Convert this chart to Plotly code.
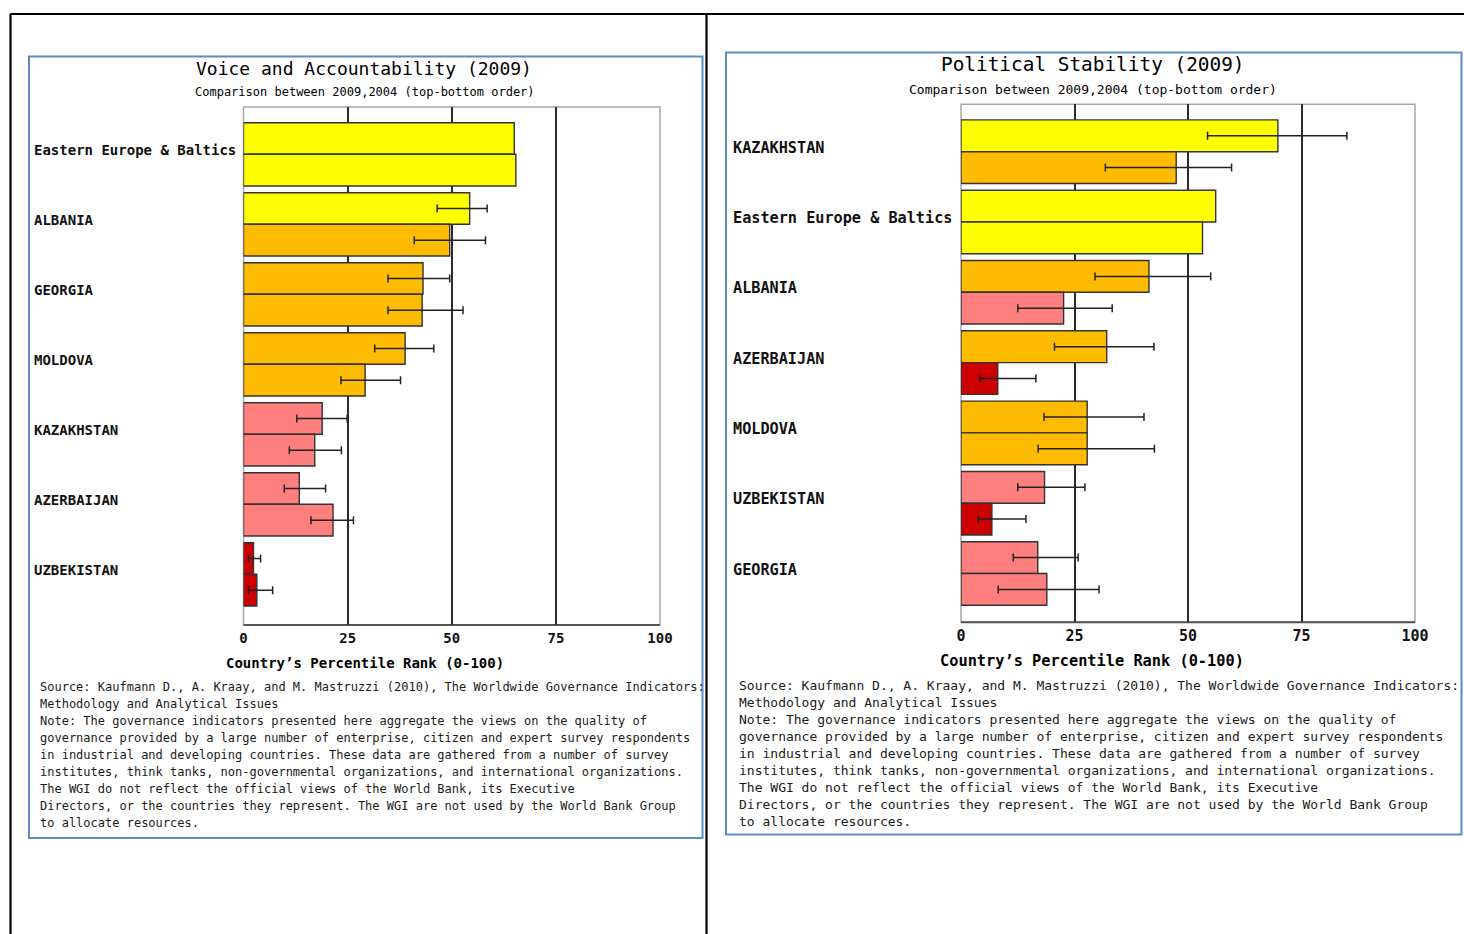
import plotly.graph_objects as go

# ---------------- data ----------------
va_categories = ["Eastern Europe & Baltics", "ALBANIA", "GEORGIA", "MOLDOVA",
                 "KAZAKHSTAN", "AZERBAIJAN", "UZBEKISTAN"]
va_2009 = [65.0, 54.3, 43.1, 38.8, 18.9, 13.4, 2.4]
va_2009_lo = [None, 46.5, 34.7, 31.5, 12.8, 9.8, 1.2]
va_2009_hi = [None, 58.5, 49.5, 45.7, 24.9, 19.7, 4.1]
va_2004 = [65.4, 49.5, 42.9, 29.2, 17.1, 21.5, 3.2]
va_2004_lo = [None, 41.0, 34.7, 23.4, 11.0, 16.2, 1.2]
va_2004_hi = [None, 58.1, 52.7, 37.7, 23.5, 26.4, 7.0]

ps_categories = ["KAZAKHSTAN", "Eastern Europe & Baltics", "ALBANIA", "AZERBAIJAN",
                 "MOLDOVA", "UZBEKISTAN", "GEORGIA"]
ps_2009 = [69.8, 56.1, 41.4, 32.1, 27.8, 18.4, 16.9]
ps_2009_lo = [54.3, None, 29.5, 20.6, 18.3, 12.5, 11.5]
ps_2009_hi = [85.0, None, 55.0, 42.5, 40.3, 27.3, 25.8]
ps_2004 = [47.4, 53.2, 22.6, 8.1, 27.8, 6.8, 18.9]
ps_2004_lo = [31.8, None, 12.5, 4.2, 17.0, 3.8, 8.2]
ps_2004_hi = [59.6, None, 33.3, 16.5, 42.6, 14.3, 30.4]

tick_values = [0, 25, 50, 75, 100]
grid_values = [25, 50, 75]
axis_title = "Country\u2019s Percentile Rank (0-100)"

footnote_lines = [
    "Source: Kaufmann D., A. Kraay, and M. Mastruzzi (2010), The Worldwide Governance Indicators:",
    "Methodology and Analytical Issues",
    "Note: The governance indicators presented here aggregate the views on the quality of",
    "governance provided by a large number of enterprise, citizen and expert survey respondents",
    "in industrial and developing countries. These data are gathered from a number of survey",
    "institutes, think tanks, non-governmental organizations, and international organizations.",
    "The WGI do not reflect the official views of the World Bank, its Executive",
    "Directors, or the countries they represent. The WGI are not used by the World Bank Group",
    "to allocate resources.",
]

# ---------------- styling ----------------
W, H = 1464, 934
MONO = "DejaVu Sans Mono"
BAR_LINE = "#333333"


def px_x(p):
    return p / W


def px_y(p):
    return 1 - p / H


def rank_color(v):
    if v < 10:
        return "#CC0000"
    if v < 25:
        return "#FF7F7F"
    if v < 50:
        return "#FFBB00"
    if v < 75:
        return "#FFFF00"
    return "#00CC00"


fig = go.Figure()


def add_panel(xa, ya, cats, v09, lo09, hi09, v04, lo04, hi04):
    # one trace per year for rows with a confidence interval, one without
    for year, vals, lo, hi in (("2009", v09, lo09, hi09), ("2004", v04, lo04, hi04)):
        with_ci = [i for i in range(len(cats)) if lo[i] is not None]
        no_ci = [i for i in range(len(cats)) if lo[i] is None]
        fig.add_trace(go.Bar(
            orientation="h", xaxis=xa, yaxis=ya, offsetgroup=year,
            y=[cats[i] for i in with_ci], x=[vals[i] for i in with_ci],
            marker=dict(color=[rank_color(vals[i]) for i in with_ci],
                        line=dict(color=BAR_LINE, width=1.4)),
            error_x=dict(type="data", symmetric=False,
                         array=[hi[i] - vals[i] for i in with_ci],
                         arrayminus=[vals[i] - lo[i] for i in with_ci],
                         color="#222222", thickness=1.5, width=4),
            showlegend=False, hoverinfo="skip",
        ))
        fig.add_trace(go.Bar(
            orientation="h", xaxis=xa, yaxis=ya, offsetgroup=year,
            y=[cats[i] for i in no_ci], x=[vals[i] for i in no_ci],
            marker=dict(color=[rank_color(vals[i]) for i in no_ci],
                        line=dict(color=BAR_LINE, width=1.4)),
            showlegend=False, hoverinfo="skip",
        ))


add_panel("x", "y", va_categories, va_2009, va_2009_lo, va_2009_hi,
          va_2004, va_2004_lo, va_2004_hi)
add_panel("x2", "y2", ps_categories, ps_2009, ps_2009_lo, ps_2009_hi,
          ps_2004, ps_2004_lo, ps_2004_hi)


def xaxis_style(tick_size):
    return dict(range=[0, 100], tickvals=tick_values, showgrid=False, automargin=False,
                minor=dict(tickvals=grid_values, showgrid=True, gridcolor="#2b2b2b",
                           gridwidth=1.5, ticks=""),
                zeroline=False, showline=False, ticks="", ticklabelstandoff=3,
                tickfont=dict(family=MONO, size=tick_size, color="#111", weight="bold"),
                fixedrange=True)


ycommon = dict(type="category", categoryorder="array", showticklabels=False,
               showgrid=False, zeroline=False, showline=False, ticks="",
               automargin=False, fixedrange=True)

fig.update_layout(
    template="none",
    width=W, height=H, margin=dict(l=0, r=0, t=0, b=0, autoexpand=False),
    paper_bgcolor="white", plot_bgcolor="white",
    barmode="group", bargap=0.096, bargroupgap=0,
    xaxis=dict(domain=[px_x(243.5), px_x(660)], anchor="y", **xaxis_style(14)),
    yaxis=dict(domain=[px_y(625), px_y(107)], anchor="x",
               categoryarray=va_categories, range=[6.724, -0.676], **ycommon),
    xaxis2=dict(domain=[px_x(961), px_x(1415)], anchor="y2", **xaxis_style(15)),
    yaxis2=dict(domain=[px_y(622.3), px_y(104.3)], anchor="x2",
                categoryarray=ps_categories, range=[6.694, -0.674], **ycommon),
)

shapes = []
# page frame
shapes.append(dict(type="line", xref="paper", yref="paper", x0=px_x(10), x1=1,
                   y0=px_y(14), y1=px_y(14), line=dict(color="black", width=2)))
for xp in (10.5, 706.5):
    shapes.append(dict(type="line", xref="paper", yref="paper", x0=px_x(xp), x1=px_x(xp),
                       y0=px_y(14), y1=0, line=dict(color="black", width=2.2)))
# blue panel boxes
for (x0, y0, x1, y1) in ((29, 56.5, 702.5, 838), (726, 52.5, 1461.5, 834.5)):
    shapes.append(dict(type="rect", xref="paper", yref="paper",
                       x0=px_x(x0), x1=px_x(x1), y0=px_y(y1), y1=px_y(y0),
                       line=dict(color="#5B8BC8", width=2)))
# plot area borders
for xa, ya in (("x", "y"), ("x2", "y2")):
    shapes.append(dict(type="rect", xref=f"{xa} domain", yref=f"{ya} domain",
                       x0=0, x1=1, y0=0, y1=1, layer="below",
                       line=dict(color="#a8a8a8", width=1.5)))
    shapes.append(dict(type="line", xref=f"{xa} domain", yref=f"{ya} domain",
                       x0=0, x1=1, y0=0, y1=0, layer="below",
                       line=dict(color="#555555", width=2)))
fig.update_layout(shapes=shapes)

ann = []


def text(x, y, s, size, bold=False, anchor="center", color="black"):
    ann.append(dict(xref="paper", yref="paper", x=px_x(x), y=px_y(y), text=s,
                    showarrow=False, xanchor=anchor, yanchor="middle",
                    font=dict(family=MONO, size=size, color=color,
                              weight="bold" if bold else "normal")))


# titles
text(363.5, 68, "Voice and Accountability (2009)", 18)
text(365, 92, "Comparison between 2009,2004 (top-bottom order)", 12)
text(1092.5, 65, "Political Stability (2009)", 19.4)
text(1093, 89, "Comparison between 2009,2004 (top-bottom order)", 13)

# axis titles
text(364.5, 663, axis_title, 14, bold=True)
text(1092, 661, axis_title, 15.3, bold=True)

# category labels, left aligned inside each panel
for cats, ya, xpix, size in ((va_categories, "y", 32, 14), (ps_categories, "y2", 731, 15.2)):
    for c in cats:
        ann.append(dict(xref="paper", yref=ya, x=px_x(xpix), y=c, text=c,
                        showarrow=False, xanchor="left", yanchor="middle", yshift=4,
                        font=dict(family=MONO, size=size, color="#111", weight="bold")))

# footnotes
for x0, y0, size in ((38, 687, 12), (737, 685, 13)):
    for i, line in enumerate(footnote_lines):
        text(x0, y0 + 17 * i, line, size, anchor="left", color="#1a1a1a")

fig.update_layout(annotations=ann)

fig.write_html("out.html")
